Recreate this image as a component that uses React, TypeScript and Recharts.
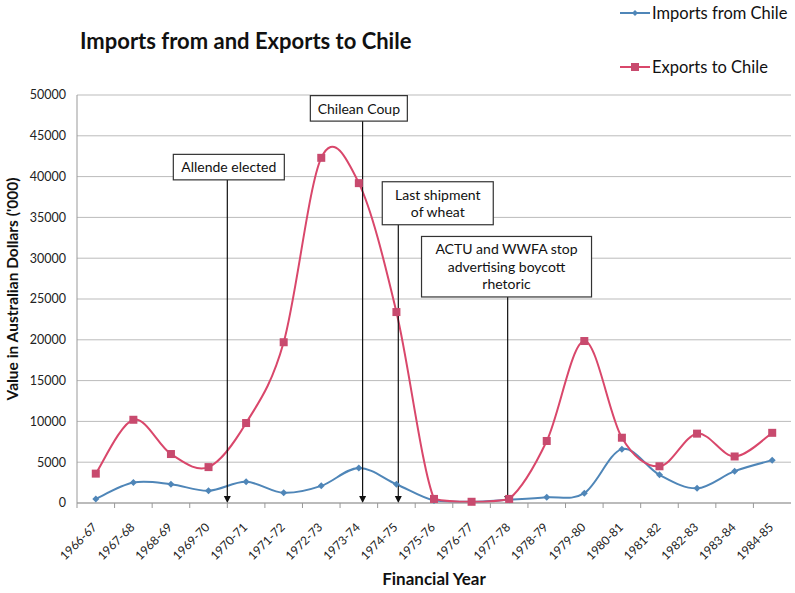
import React from 'react';
import {
  LineChart,
  Line,
  XAxis,
  YAxis,
  CartesianGrid,
  ReferenceLine,
  ReferenceDot,
  Legend,
} from 'recharts';

const years = [
  '1966-67', '1967-68', '1968-69', '1969-70', '1970-71', '1971-72', '1972-73',
  '1973-74', '1974-75', '1975-76', '1976-77', '1977-78', '1978-79', '1979-80',
  '1980-81', '1981-82', '1982-83', '1983-84', '1984-85',
];

const imports = [
  500, 2500, 2300, 1500, 2600, 1250, 2100, 4300, 2300, 300,
  150, 400, 700, 1200, 6600, 3450, 1800, 3900, 5250,
];

const exports = [
  3600, 10200, 6000, 4400, 9800, 19700, 42300, 39200, 23400, 500,
  150, 500, 7600, 19850, 8000, 4500, 8500, 5700, 8600,
];

const yTicks = [0, 5000, 10000, 15000, 20000, 25000, 30000, 35000, 40000, 45000, 50000];

// events: arrow position and box position in category units, box bottom in data units
const eventLabels = [
  ['Allende elected'],
  ['Chilean Coup'],
  ['Last shipment', 'of wheat'],
  ['ACTU and WWFA stop', 'advertising boycott', 'rhetoric'],
];
const eventArrowAt = [3.5, 7.1, 8.05, 10.96];
const eventBoxAt = [3.54, 7.0, 9.1, 10.93];
const eventBoxBottom = [39600, 46800, 34100, 25250];
const boxWidths = [111, 97, 111, 170];

const data = years.map((year, i) => ({
  year,
  idx: i,
  imports: imports[i],
  exports: exports[i],
}));

const FONT = 'Lato, "DejaVu Sans", sans-serif';
const IMPORT_COLOR = '#4f86b8';
const EXPORT_COLOR = '#d9476b';

// Excel-like smoothed line (Catmull-Rom, 1/6 tension), no dip below the lowest point
const excelCurve = (context: any) => {
  let pts: number[][] = [];
  return {
    areaStart() {},
    areaEnd() {},
    lineStart() {
      pts = [];
    },
    point(x: number, y: number) {
      pts.push([+x, +y]);
    },
    lineEnd() {
      if (!pts.length) return;
      const floor = Math.max(...pts.map((p) => p[1]));
      context.moveTo(pts[0][0], pts[0][1]);
      for (let i = 0; i < pts.length - 1; i++) {
        const p0 = pts[i - 1] || pts[i];
        const p1 = pts[i];
        const p2 = pts[i + 1];
        const p3 = pts[i + 2] || p2;
        const c1x = p1[0] + (p2[0] - p0[0]) / 6;
        const c1y = Math.min(floor, p1[1] + (p2[1] - p0[1]) / 6);
        const c2x = p2[0] - (p3[0] - p1[0]) / 6;
        const c2y = Math.min(floor, p2[1] - (p3[1] - p1[1]) / 6);
        context.bezierCurveTo(c1x, c1y, c2x, c2y, p2[0], p2[1]);
      }
    },
  };
};

const DiamondDot = (props: any) => {
  const { cx, cy } = props;
  if (cx == null || cy == null) return null;
  return (
    <path
      d={`M${cx},${cy - 3.5}L${cx + 3.5},${cy}L${cx},${cy + 3.5}L${cx - 3.5},${cy}Z`}
      fill={IMPORT_COLOR}
    />
  );
};

const SquareDot = (props: any) => {
  const { cx, cy } = props;
  if (cx == null || cy == null) return null;
  return <rect x={cx - 4} y={cy - 4} width={8} height={8} fill="#c84a6e" />;
};

const XTick = (props: any) => {
  const { x, y, payload } = props;
  const half = payload.offset || 0;
  const ax = x + 2;
  const ay = y + 17;
  return (
    <g>
      <line x1={x - half} y1={y - 8} x2={x - half} y2={y - 3} stroke="#999" />
      <text
        x={ax}
        y={ay}
        transform={`rotate(-45, ${ax}, ${ay})`}
        textAnchor="end"
        fontSize={12}
        fontFamily={FONT}
        fill="#222"
      >
        {payload.value}
      </text>
    </g>
  );
};

const Arrow = (props: any) => {
  const { x1, y1, x2, y2 } = props;
  const top = Math.min(y1, y2);
  const bottom = Math.max(y1, y2);
  return (
    <g>
      <line x1={x1} y1={top} x2={x2} y2={bottom - 6} stroke="#111" strokeWidth={1.2} />
      <path d={`M${x2 - 3.5},${bottom - 7}L${x2 + 3.5},${bottom - 7}L${x2},${bottom}Z`} fill="#111" />
    </g>
  );
};

const makeBox = (lines: string[], width: number) => (props: any) => {
  const { cx, cy } = props;
  const h = lines.length * 17.5 + 8;
  return (
    <g>
      <rect x={cx - width / 2} y={cy - h} width={width} height={h} fill="#fff" stroke="#333" strokeWidth={1.2} />
      {lines.map((t, i) => (
        <text
          key={t}
          x={cx}
          y={cy - h + 18 + i * 17.5}
          textAnchor="middle"
          fontSize={14}
          fontFamily={FONT}
          fill="#111"
        >
          {t}
        </text>
      ))}
    </g>
  );
};

const LegendContent = () => (
  <div style={{ fontFamily: FONT, fontSize: 16.5, color: '#111' }}>
    <div style={{ display: 'flex', alignItems: 'center', height: 30 }}>
      <svg width={32} height={10}>
        <line x1={0} y1={5} x2={30} y2={5} stroke={IMPORT_COLOR} strokeWidth={2} />
        <path d="M15,2L18,5L15,8L12,5Z" fill={IMPORT_COLOR} />
      </svg>
      <span>Imports from Chile</span>
    </div>
    <div style={{ display: 'flex', alignItems: 'center', height: 30, marginTop: 24 }}>
      <svg width={32} height={10}>
        <line x1={0} y1={5} x2={30} y2={5} stroke={EXPORT_COLOR} strokeWidth={2} />
        <rect x={11} y={1} width={8} height={8} fill="#c84a6e" />
      </svg>
      <span>Exports to Chile</span>
    </div>
  </div>
);

export default function App() {
  return (
    <div style={{ position: 'absolute', left: 0, top: 0, width: 795, height: 593, background: '#fff' }}>
      <div
        style={{
          position: 'absolute',
          left: 80,
          top: 27,
          fontFamily: FONT,
          fontWeight: 700,
          fontSize: 22,
          color: '#111',
        }}
      >
        Imports from and Exports to Chile
      </div>
      <LineChart
        width={795}
        height={593}
        data={data}
        margin={{ top: 95, right: 4, left: 0, bottom: 0 }}
      >
        <CartesianGrid vertical={false} stroke="#bbb" />
        <XAxis
          dataKey="year"
          scale="band"
          interval={0}
          height={90}
          stroke="#999"
          tickLine={false}
          tick={<XTick />}
          label={{
            value: 'Financial Year',
            position: 'insideBottom',
            offset: 8,
            style: { fontFamily: FONT, fontWeight: 700, fontSize: 17, fill: '#111' },
          }}
        />
        <XAxis
          xAxisId="n"
          dataKey="idx"
          type="number"
          domain={[-0.5, 18.5]}
          allowDataOverflow
          allowDecimals
          scale="linear"
          padding={{ left: 0, right: 0 }}
          hide
        />
        <YAxis
          width={77}
          domain={[0, 50000]}
          ticks={yTicks}
          interval={0}
          stroke="#999"
          tickLine={false}
          tickMargin={5}
          tick={{ fontFamily: FONT, fontSize: 12.5, fill: '#222' }}
          label={{
            value: "Value in Australian Dollars ('000)",
            angle: -90,
            position: 'insideLeft',
            offset: 12,
            dy: -10,
            style: { fontFamily: FONT, fontWeight: 700, fontSize: 15.5, fill: '#111', textAnchor: 'middle' },
          }}
        />
        <Legend
          layout="horizontal"
          verticalAlign="middle"
          align="center"
          content={<LegendContent />}
          wrapperStyle={{ top: -2, left: 620, width: 175, height: 90 }}
        />
        <Line
          type={excelCurve as any}
          dataKey="imports"
          stroke={IMPORT_COLOR}
          strokeWidth={2}
          dot={<DiamondDot />}
          activeDot={false}
          isAnimationActive={false}
        />
        <Line
          type={excelCurve as any}
          dataKey="exports"
          stroke={EXPORT_COLOR}
          strokeWidth={2}
          dot={<SquareDot />}
          activeDot={false}
          isAnimationActive={false}
        />
        {eventLabels.map((lines, i) => (
          <ReferenceLine
            key={`a${i}`}
            xAxisId="n"
            segment={[
              { x: eventArrowAt[i], y: eventBoxBottom[i] },
              { x: eventArrowAt[i], y: 0 },
            ]}
            shape={<Arrow />}
          />
        ))}
        {eventLabels.map((lines, i) => (
          <ReferenceDot
            key={`b${i}`}
            xAxisId="n"
            x={eventBoxAt[i]}
            y={eventBoxBottom[i]}
            shape={makeBox(lines, boxWidths[i])}
          />
        ))}
      </LineChart>
    </div>
  );
}
